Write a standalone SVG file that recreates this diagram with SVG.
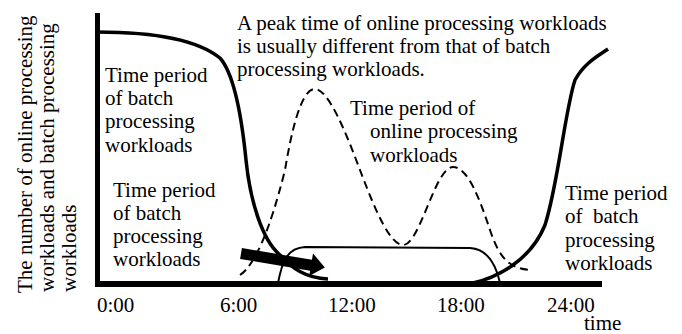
<svg xmlns="http://www.w3.org/2000/svg" width="682" height="334" viewBox="0 0 682 334">
<style>
.t{font-family:'Liberation Serif','Times New Roman',serif;font-size:21px;fill:#000}
.thick{fill:none;stroke:#000;stroke-width:3.5;stroke-linecap:butt}
.thin{fill:none;stroke:#000;stroke-width:2}
.dash{fill:none;stroke:#000;stroke-width:2;stroke-dasharray:8 5}
.axis{stroke:#000;fill:none}
</style>
<rect width="682" height="334" fill="#fff"/>
<g id="axes">
<line class="axis" x1="97.5" y1="13" x2="97.5" y2="287" stroke-width="5"/>
<line class="axis" x1="95" y1="284" x2="602" y2="284" stroke-width="6"/>
</g>
<g id="connectors">
<path id="batch-left" class="thick" d="M97,32 C150,32 195,38 220,58 C235,75 242,120 246,160 C250,200 262,240 280,255 C292,268 305,278 328,279"/>
<path id="batch-right" class="thick" d="M473,283 C495,278 530,262 545,225 C558,185 565,110 575,80 C585,62 600,55 608,49"/>
<path id="online-dashed" class="dash" d="M240,275 C255,265 270,230 285,170 C295,110 305,89 315,89 C328,89 345,130 360,170 C375,210 390,245 403,245 C420,245 435,167 453,167 C468,167 480,200 490,230 C500,260 510,268 530,270"/>
<path id="online-period" class="thin" d="M278,283 C282,262 287,248 305,247 L470,248 C488,249 496,265 500,283"/>
<polygon id="shift-arrow" fill="#000" transform="translate(241,253.5) rotate(9.5)" points="0,-5.5 71,-5.5 71,-12 85,0 71,11 71,5.5 0,5.5"/>
</g>
<g id="y-label" class="t">
<text transform="translate(32,293) rotate(-90)">The number of online processing</text>
<text transform="translate(54,292) rotate(-90)">workloads and batch processing</text>
<text transform="translate(76,292) rotate(-90)">workloads</text>
</g>
<g id="note-peak" class="t">
<text x="237" y="30">A peak time of online processing workloads</text>
<text x="237" y="53">is usually different from that of batch</text>
<text x="237" y="76">processing workloads.</text>
</g>
<g id="label-batch-1" class="t">
<text x="105" y="82">Time period</text>
<text x="105" y="105">of batch</text>
<text x="105" y="128">processing</text>
<text x="105" y="152">workloads</text>
</g>
<g id="label-batch-2" class="t">
<text x="113" y="197">Time period</text>
<text x="113" y="220">of batch</text>
<text x="113" y="243">processing</text>
<text x="113" y="266">workloads</text>
</g>
<g id="label-online" class="t">
<text x="350" y="115">Time period of</text>
<text x="370" y="138">online processing</text>
<text x="370" y="162">workloads</text>
</g>
<g id="label-batch-3" class="t">
<text x="565" y="200">Time period</text>
<text x="565" y="223" xml:space="preserve">of  batch</text>
<text x="565" y="247">processing</text>
<text x="565" y="270">workloads</text>
</g>
<g id="x-ticks" class="t">
<text x="97" y="312">0:00</text>
<text x="220" y="312">6:00</text>
<text x="328" y="312">12:00</text>
<text x="437" y="312">18:00</text>
<text x="547" y="312">24:00</text>
<text x="584" y="330">time</text>
</g>
</svg>
